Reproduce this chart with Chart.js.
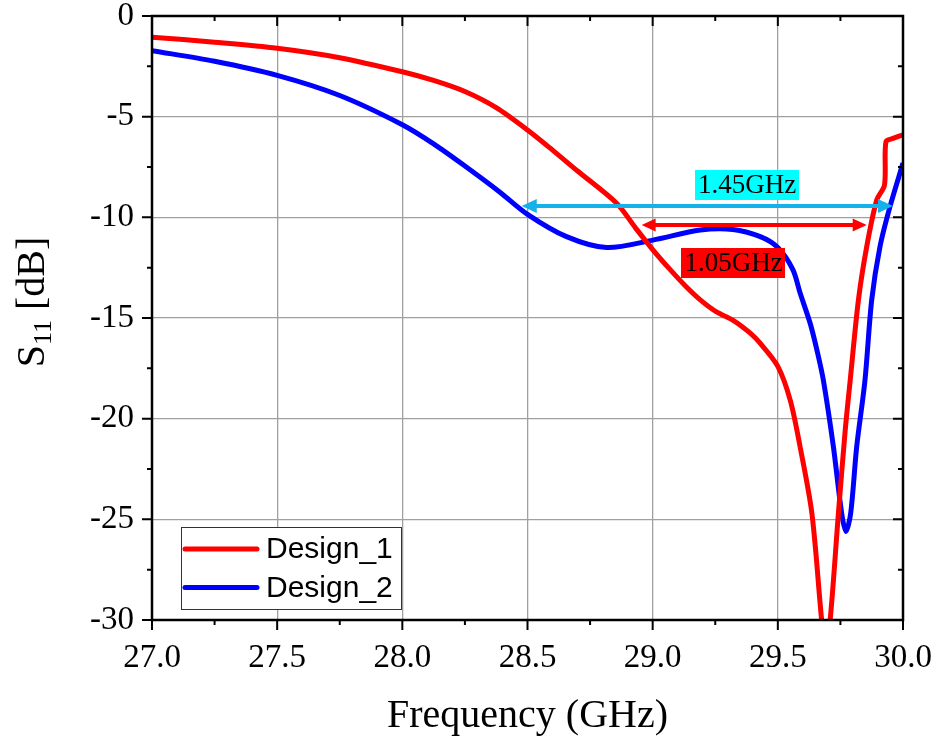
<!DOCTYPE html>
<html>
<head>
<meta charset="utf-8">
<script src="https://cdn.jsdelivr.net/npm/chart.js@4.4.1/dist/chart.umd.min.js"></script>
<style>
  html, body { margin: 0; padding: 0; background: #ffffff; }
  #wrap { width: 936px; height: 740px; }
</style>
</head>
<body>
<div id="wrap"><canvas id="c" width="936" height="740"></canvas></div>
<script>
// ---- data ----
const seriesNames = ['Design_1', 'Design_2'];

const freq1 = [27.0, 27.25, 27.5, 27.75, 28.0, 28.125, 28.25, 28.375, 28.5, 28.6, 28.7, 28.856, 28.93, 29.0, 29.07, 29.134, 29.19, 29.255, 29.32, 29.39, 29.43, 29.5, 29.55, 29.589, 29.636, 29.675, 29.69, 29.709, 29.742, 29.769, 29.789, 29.822, 29.855, 29.895, 29.926, 29.932, 29.96, 30.0];
const s11_1 = [-1.05, -1.3, -1.6, -2.07, -2.77, -3.2, -3.75, -4.55, -5.66, -6.66, -7.7, -9.3, -10.5, -11.6, -12.6, -13.45, -14.1, -14.7, -15.1, -15.75, -16.26, -17.4, -19.1, -21.4, -24.7, -30.0, -31.5, -30.0, -24.7, -20.6, -18.1, -14.1, -11.46, -9.14, -8.4, -6.24, -6.08, -5.9];

const freq2 = [27.0, 27.25, 27.5, 27.75, 28.0, 28.125, 28.25, 28.39, 28.5, 28.656, 28.816, 29.0, 29.19, 29.32, 29.43, 29.5, 29.56, 29.59, 29.63, 29.66, 29.682, 29.722, 29.755, 29.772, 29.791, 29.815, 29.848, 29.875, 29.908, 29.948, 30.0];
const s11_2 = [-1.72, -2.25, -2.95, -3.95, -5.4, -6.35, -7.45, -8.75, -9.85, -10.96, -11.5, -11.13, -10.63, -10.6, -10.96, -11.5, -12.6, -13.8, -15.3, -16.8, -18.1, -21.4, -24.7, -25.6, -24.7, -21.4, -18.1, -14.1, -11.46, -9.47, -7.3];

// x / y tick values
const xTicks = [27.0, 27.5, 28.0, 28.5, 29.0, 29.5, 30.0];
const yTicks = [0, -5, -10, -15, -20, -25, -30];

// bandwidth markers: [start GHz, end GHz], level dB, label, label anchor [GHz, dB]
const bwSpan2 = [28.477, 29.96];
const bwLevel2 = -9.44;
const bwText2 = '1.45GHz';
const bwLabelAt2 = [29.377, -8.40];

const bwSpan1 = [28.956, 29.855];
const bwLevel1 = -10.38;
const bwText1 = '1.05GHz';
const bwLabelAt1 = [29.323, -12.27];

// ---- chart ----
const SERIF = '"Liberation Serif", "Times New Roman", serif';
const SANS = '"Liberation Sans", Arial, sans-serif';

const toXY = (xs, ys) => xs.map((x, i) => ({ x: x, y: ys[i] }));

const framePlugin = {
  id: 'frame',
  afterDatasetsDraw(chart) {
    const ctx = chart.ctx, a = chart.chartArea;
    const xs = chart.scales.x, ys = chart.scales.y;
    ctx.save();
    // bandwidth arrows
    function arrow(x1, x2, yv, color, lw, hl, hw) {
      const p1 = xs.getPixelForValue(x1), p2 = xs.getPixelForValue(x2), py = ys.getPixelForValue(yv);
      ctx.strokeStyle = color; ctx.fillStyle = color; ctx.lineWidth = lw;
      ctx.beginPath(); ctx.moveTo(p1 + hl - 1, py); ctx.lineTo(p2 - hl + 1, py); ctx.stroke();
      ctx.beginPath(); ctx.moveTo(p1, py); ctx.lineTo(p1 + hl, py - hw); ctx.lineTo(p1 + hl, py + hw); ctx.closePath(); ctx.fill();
      ctx.beginPath(); ctx.moveTo(p2, py); ctx.lineTo(p2 - hl, py - hw); ctx.lineTo(p2 - hl, py + hw); ctx.closePath(); ctx.fill();
    }
    arrow(bwSpan2[0], bwSpan2[1], bwLevel2, '#14b1ea', 4, 15, 7);
    arrow(bwSpan1[0], bwSpan1[1], bwLevel1, '#ff0000', 4, 14, 6.5);
    function label(txt, at, bg) {
      ctx.font = '27px ' + SERIF;
      const w = ctx.measureText(txt).width;
      const cx = xs.getPixelForValue(at[0]), cy = ys.getPixelForValue(at[1]);
      ctx.fillStyle = bg;
      ctx.fillRect(Math.round(cx - w / 2 - 3), Math.round(cy - 15), Math.round(w + 6), 30);
      ctx.fillStyle = '#000';
      ctx.textAlign = 'center'; ctx.textBaseline = 'middle';
      ctx.fillText(txt, cx, cy + 1);
    }
    label(bwText2, bwLabelAt2, '#00ffff');
    label(bwText1, bwLabelAt1, '#ff0000');

    // frame
    ctx.strokeStyle = '#000'; ctx.lineWidth = 2.5;
    ctx.strokeRect(a.left, a.top, a.right - a.left, a.bottom - a.top);
    // ticks (major + minor)
    ctx.lineWidth = 2;
    ctx.beginPath();
    for (let v = 27; v <= 30.0001; v += 0.25) {
      const px = xs.getPixelForValue(v);
      const major = Math.abs(v * 2 - Math.round(v * 2)) < 1e-6;
      const L = major ? 10 : 5;
      ctx.moveTo(px, a.bottom); ctx.lineTo(px, a.bottom + L);   // bottom outward
      ctx.moveTo(px, a.top); ctx.lineTo(px, a.top + L);         // top inward
    }
    for (let v = 0; v >= -30.0001; v -= 2.5) {
      const py = ys.getPixelForValue(v);
      const major = Math.abs(v / 5 - Math.round(v / 5)) < 1e-6;
      const L = major ? 10 : 5;
      ctx.moveTo(a.left, py); ctx.lineTo(a.left - L, py);       // left outward
      ctx.moveTo(a.right, py); ctx.lineTo(a.right - L, py);     // right inward
    }
    ctx.stroke();

    // legend
    ctx.lineWidth = 1; ctx.strokeStyle = '#333';
    ctx.fillStyle = '#fff';
    ctx.fillRect(181, 527, 221, 82);
    ctx.strokeRect(181.5, 527.5, 220, 82);
    ctx.font = '30px ' + SANS; ctx.textAlign = 'left'; ctx.textBaseline = 'middle';
    chart.data.datasets.forEach((ds, i) => {
      const ly = 549 + i * 38.5;
      ctx.strokeStyle = ds.borderColor; ctx.lineWidth = 5; ctx.lineCap = 'round';
      ctx.beginPath(); ctx.moveTo(185, ly); ctx.lineTo(257, ly); ctx.stroke();
      ctx.fillStyle = '#000';
      ctx.fillText(ds.label, 266, ly + 1);
    });

    // y axis title with subscript
    ctx.save();
    ctx.translate(31, 302);
    ctx.rotate(-Math.PI / 2);
    ctx.fillStyle = '#000'; ctx.textBaseline = 'alphabetic'; ctx.textAlign = 'left';
    ctx.font = '40px ' + SERIF;
    const wS = ctx.measureText('S').width;
    ctx.font = '26px ' + SERIF;
    const wSub = ctx.measureText('11').width;
    ctx.font = '40px ' + SERIF;
    const wRest = ctx.measureText(' [dB]').width;
    const total = wS + wSub + wRest;
    let x0 = -total / 2;
    const base = 13;
    ctx.fillText('S', x0, base);
    ctx.font = '26px ' + SERIF;
    ctx.fillText('11', x0 + wS, base + 7);
    ctx.font = '40px ' + SERIF;
    ctx.fillText(' [dB]', x0 + wS + wSub, base);
    ctx.restore();

    ctx.restore();
  }
};

new Chart(document.getElementById('c'), {
  type: 'line',
  data: {
    datasets: [
      { label: seriesNames[0], data: toXY(freq1, s11_1), borderColor: '#ff0000', borderWidth: 5, pointRadius: 0, tension: 0.3, clip: 0, fill: false },
      { label: seriesNames[1], data: toXY(freq2, s11_2), borderColor: '#0000ff', borderWidth: 5, pointRadius: 0, tension: 0.3, clip: 0, fill: false }
    ]
  },
  options: {
    responsive: false,
    animation: false,
    events: [],
    layout: { padding: { left: 0, right: 33, top: 16, bottom: 0 } },
    plugins: { legend: { display: false }, tooltip: { enabled: false }, title: { display: false } },
    scales: {
      x: {
        type: 'linear', min: 27, max: 30,
        afterBuildTicks(s) { s.ticks = xTicks.map(v => ({ value: v })); },
        afterFit(s) { s.height = 120; s.paddingLeft = 0; s.paddingRight = 0; },
        ticks: { autoSkip: false, maxRotation: 0, padding: 9, color: '#000', font: { family: SERIF, size: 33 }, callback: v => Number(v).toFixed(1) },
        grid: { color: '#a0a0a0', lineWidth: 1.3, drawTicks: true, tickLength: 10, tickColor: 'rgba(0,0,0,0)' },
        border: { display: false },
        title: { display: true, text: 'Frequency (GHz)', color: '#000', font: { family: SERIF, size: 40 }, padding: { top: 0, bottom: 0 } }
      },
      y: {
        type: 'linear', min: -30, max: 0,
        afterBuildTicks(s) { s.ticks = yTicks.map(v => ({ value: v })); },
        afterFit(s) { s.width = 152; s.paddingTop = 0; s.paddingBottom = 0; },
        ticks: { autoSkip: false, padding: 8, color: '#000', font: { family: SERIF, size: 33 }, callback: v => String(v) },
        grid: { color: '#a0a0a0', lineWidth: 1.3, drawTicks: true, tickLength: 10, tickColor: 'rgba(0,0,0,0)' },
        border: { display: false }
      }
    }
  },
  plugins: [framePlugin]
});
</script>
</body>
</html>
